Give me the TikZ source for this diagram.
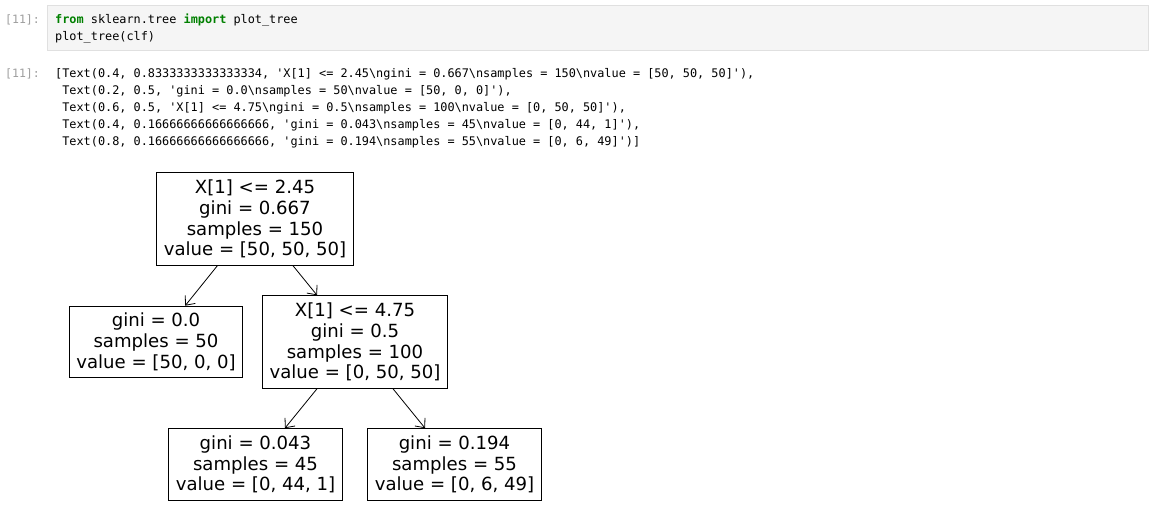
\documentclass[tikz,border=0pt]{standalone}
\usepackage{fontspec}
\setmainfont{DejaVu Sans}
\setmonofont{DejaVu Sans Mono}
\usetikzlibrary{arrows.meta}
\definecolor{cellbg}{HTML}{F5F5F5}
\definecolor{cellline}{HTML}{E0E0E0}
\definecolor{promptgray}{HTML}{9E9E9E}
\definecolor{kwgreen}{HTML}{008000}
\newcommand{\Kw}[1]{\textcolor{kwgreen}{\bfseries #1}}
\newcommand{\Nl}{\textbackslash n}
\newcommand{\Q}{\char"0027}

\begin{document}
\begin{tikzpicture}[x=1pt, y=-1pt,
    code/.style={font=\ttfamily\fontsize{11.85}{17.1}\selectfont, inner sep=0pt, anchor=base west},
    prompt/.style={font=\ttfamily\fontsize{11.5}{17}\selectfont, text=promptgray, inner sep=0pt, anchor=base east},
    leaf/.style={draw, line width=0.9pt, align=center, inner xsep=7pt, inner ysep=7pt,
        font=\fontsize{18.1}{20.8}\selectfont},
    edge/.style={line width=0.8pt, -{Straight Barb[length=7.5pt, width=13pt]}}]

    \useasboundingbox (0,0) rectangle (1154,521);

    % input cell
    \draw[fill=cellbg, draw=cellline, line width=1pt] (47,6) rectangle (1148,51);
    \draw(40,23.5) node[prompt] (inprompt) {[11]:};
    \draw(55,23.5) node[code] (inA) {\Kw{from} sklearn.tree \Kw{import} plot\_tree};
    \draw(55,41) node[code] (inB) {plot\_tree(clf)};

    % output
    \draw(40,77.5) node[prompt] (outprompt) {[11]:};
    \draw(55,77.5) node[code] (outA) {[Text(0.4, 0.8333333333333334, \Q X[1] <= 2.45\Nl gini = 0.667\Nl samples = 150\Nl value = [50, 50, 50]\Q),};
    \draw(55,94.6) node[code] (outB) {\hphantom{[}Text(0.2, 0.5, \Q gini = 0.0\Nl samples = 50\Nl value = [50, 0, 0]\Q),};
    \draw(55,111.7) node[code] (outC) {\hphantom{[}Text(0.6, 0.5, \Q X[1] <= 4.75\Nl gini = 0.5\Nl samples = 100\Nl value = [0, 50, 50]\Q),};
    \draw(55,128.8) node[code] (outD) {\hphantom{[}Text(0.4, 0.16666666666666666, \Q gini = 0.043\Nl samples = 45\Nl value = [0, 44, 1]\Q),};
    \draw(55,145.9) node[code] (outE) {\hphantom{[}Text(0.8, 0.16666666666666666, \Q gini = 0.194\Nl samples = 55\Nl value = [0, 6, 49]\Q)]};

    % tree
    \draw(255,219) node[leaf] (root) {X[1] <= 2.45\\gini = 0.667\\samples = 150\\value = [50, 50, 50]};
    \draw(156,342) node[leaf] (setosa) {gini = 0.0\\samples = 50\\value = [50, 0, 0]};
    \draw(355,342) node[leaf] (split) {X[1] <= 4.75\\gini = 0.5\\samples = 100\\value = [0, 50, 50]};
    \draw(255.5,464.5) node[leaf] (versi) {gini = 0.043\\samples = 45\\value = [0, 44, 1]};
    \draw(454.5,464.5) node[leaf] (virgi) {gini = 0.194\\samples = 55\\value = [0, 6, 49]};

    \draw[edge] (root) to (setosa);
    \draw[edge] (root) to (split);
    \draw[edge] (split) to (versi);
    \draw[edge] (split) to (virgi);

\end{tikzpicture}
\end{document}
